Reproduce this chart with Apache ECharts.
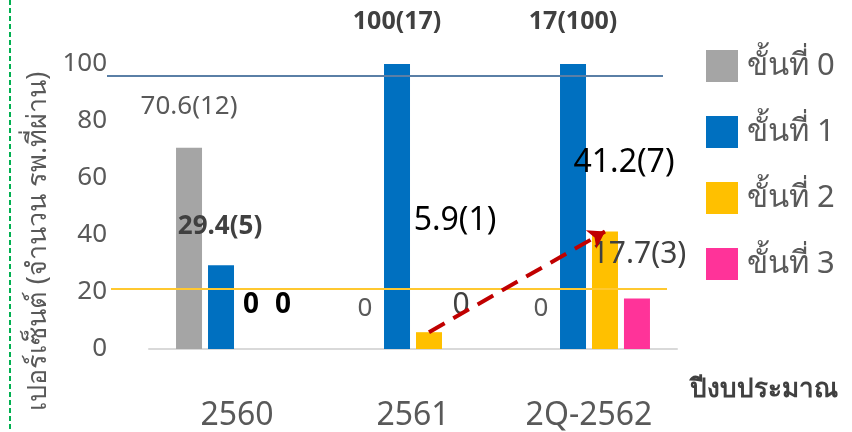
<!DOCTYPE html>
<html>
<head>
<meta charset="utf-8">
<script src="https://cdn.jsdelivr.net/npm/echarts@6/dist/echarts.min.js"></script>
<style>
  html, body { margin: 0; padding: 0; background: #fff; }
  #main { width: 852px; height: 432px; }
</style>
</head>
<body>
<div id="main"></div>
<script>
// ข้อมูลกราฟ
var categories = ['2560', '2561', '2Q-2562'];
var seriesNames = ['ขั้นที่ 0', 'ขั้นที่ 1', 'ขั้นที่ 2', 'ขั้นที่ 3'];
var step0 = [70.6, 0, 0];
var step1 = [29.4, 100, 100];
var step2 = [0, 5.9, 41.2];
var step3 = [0, 0, 17.7];
// ป้ายข้อความบนแท่ง (ตามภาพต้นฉบับ)
var label0 = ['70.6(12)', '0', '0'];
var label1 = ['29.4(5)', '100(17)', '17(100)'];
var label2 = ['0', '5.9(1)', '41.2(7)'];
var label3 = ['0', '0', '17.7(3)'];
var yTicks = [0, 20, 40, 60, 80, 100];
var refLineTop = 96;
var refLineLow = 21.3;
var arrowFrom = ['2561', 5.9];
var arrowTo = ['2Q-2562', 41.2];

var colors = ['#A5A5A5', '#0070C0', '#FFC000', '#FF3399'];
var FONT = 'Noto Sans, sans-serif';

// ตำแหน่ง/รูปแบบป้ายแต่ละอัน [dx, dy, fontSize, color, weight]
var labelStyle = [
    [[0, -227, 26, '#595959', 'normal'], [0, -25, 26, '#595959', 'normal'], [0, -25, 26, '#595959', 'normal']],
    [[-1, -107, 26, '#404040', 'bold'], [0, -313, 25, '#404040', 'bold'], [0, -313, 25, '#404040', 'bold']],
    [[-2, -28, 28, '#000000', 'bold'], [26, -110, 32, '#000000', 'normal'], [19, -168, 32, '#000000', 'normal']],
    [[-2, -28, 28, '#000000', 'bold'], [0, -27, 30, '#404040', 'normal'], [2, -78, 30, '#404040', 'normal']]
];

function buildData(values, texts, styles){
    return values.map(function(v, i){
        var s = styles[i];
        return {
            value: v,
            label: {
                show: true,
                position: 'insideBottom',
                distance: 0,
                offset: [s[0], s[1]],
                fontSize: s[2],
                lineHeight: s[2] + 4,
                color: s[3],
                fontWeight: s[4],
                fontFamily: FONT,
                formatter: texts[i]
            }
        };
    });
}

var allValues = [step0, step1, step2, step3];
var allLabels = [label0, label1, label2, label3];

var series = seriesNames.map(function(name, k){
    return {
        name: name,
        type: 'bar',
        barWidth: 26,
        barGap: '23%',
        itemStyle: { color: colors[k] },
        emphasis: { disabled: true },
        data: buildData(allValues[k], allLabels[k], labelStyle[k])
    };
});

// เส้นอ้างอิงแนวนอน
series[0].markLine = {
    silent: true,
    symbol: 'none',
    animation: false,
    label: { show: false },
    data: [
        [{ x: 107, yAxis: refLineTop, lineStyle: { color: '#5A7FA6', width: 2, type: 'solid' } }, { x: 663, yAxis: refLineTop }],
        [{ x: 111, yAxis: refLineLow, lineStyle: { color: '#FFC830', width: 2, type: 'solid' } }, { x: 667, yAxis: refLineLow }]
    ]
};
// ลูกศรเส้นประสีแดง
series[2].markLine = {
    silent: true,
    symbol: ['none', 'arrow'],
    symbolSize: 16,
    animation: false,
    label: { show: false },
    lineStyle: { color: '#C00000', width: 4, type: [18, 10] },
    data: [[{ coord: arrowFrom }, { coord: arrowTo }]]
};

var myChart = echarts.init(document.getElementById('main'));
var option = {
    animation: false,
    textStyle: { fontFamily: FONT },
    grid: { left: 149, right: 175, top: 64, bottom: 82 },
    legend: {
        orient: 'vertical',
        left: 706,
        top: 50,
        padding: 0,
        itemWidth: 32,
        itemHeight: 32,
        itemGap: 34,
        icon: 'rect',
        selectedMode: false,
        textStyle: { fontSize: 31, lineHeight: 32, color: '#595959', fontFamily: FONT, padding: [0, 0, 0, 4] },
        data: seriesNames
    },
    xAxis: {
        type: 'category',
        data: categories,
        name: 'ปีงบประมาณ',
        nameLocation: 'end',
        nameGap: 13,
        nameTextStyle: {
            fontSize: 26, fontWeight: 'bold', color: '#404040', fontFamily: FONT,
            align: 'left', verticalAlign: 'top', padding: [28, 0, 0, 0]
        },
        axisLine: { lineStyle: { color: '#D9D9D9', width: 2 } },
        axisTick: { show: false },
        axisLabel: { fontSize: 32, color: '#595959', margin: 51, fontFamily: FONT }
    },
    yAxis: {
        type: 'value',
        min: yTicks[0],
        max: yTicks[yTicks.length - 1],
        interval: 20,
        name: 'เปอร์เซ็นต์ (จำนวน รพ.ที่ผ่าน)',
        nameLocation: 'middle',
        nameRotate: 90,
        nameGap: 94,
        nameTextStyle: { fontSize: 27, color: '#595959', fontFamily: FONT, padding: [0, 70, 0, 0] },
        axisLine: { show: false },
        axisTick: { show: false },
        splitLine: { show: false },
        axisLabel: { fontSize: 26, color: '#595959', margin: 42, fontFamily: FONT }
    },
    graphic: [{
        type: 'line',
        silent: true,
        shape: { x1: 10, y1: 0, x2: 10, y2: 432 },
        style: { stroke: '#00B050', lineWidth: 2, lineDash: [5, 3] }
    }],
    series: series
};
myChart.setOption(option);
window.onresize = function(){
    myChart.resize();
};
</script>
</body>
</html>
